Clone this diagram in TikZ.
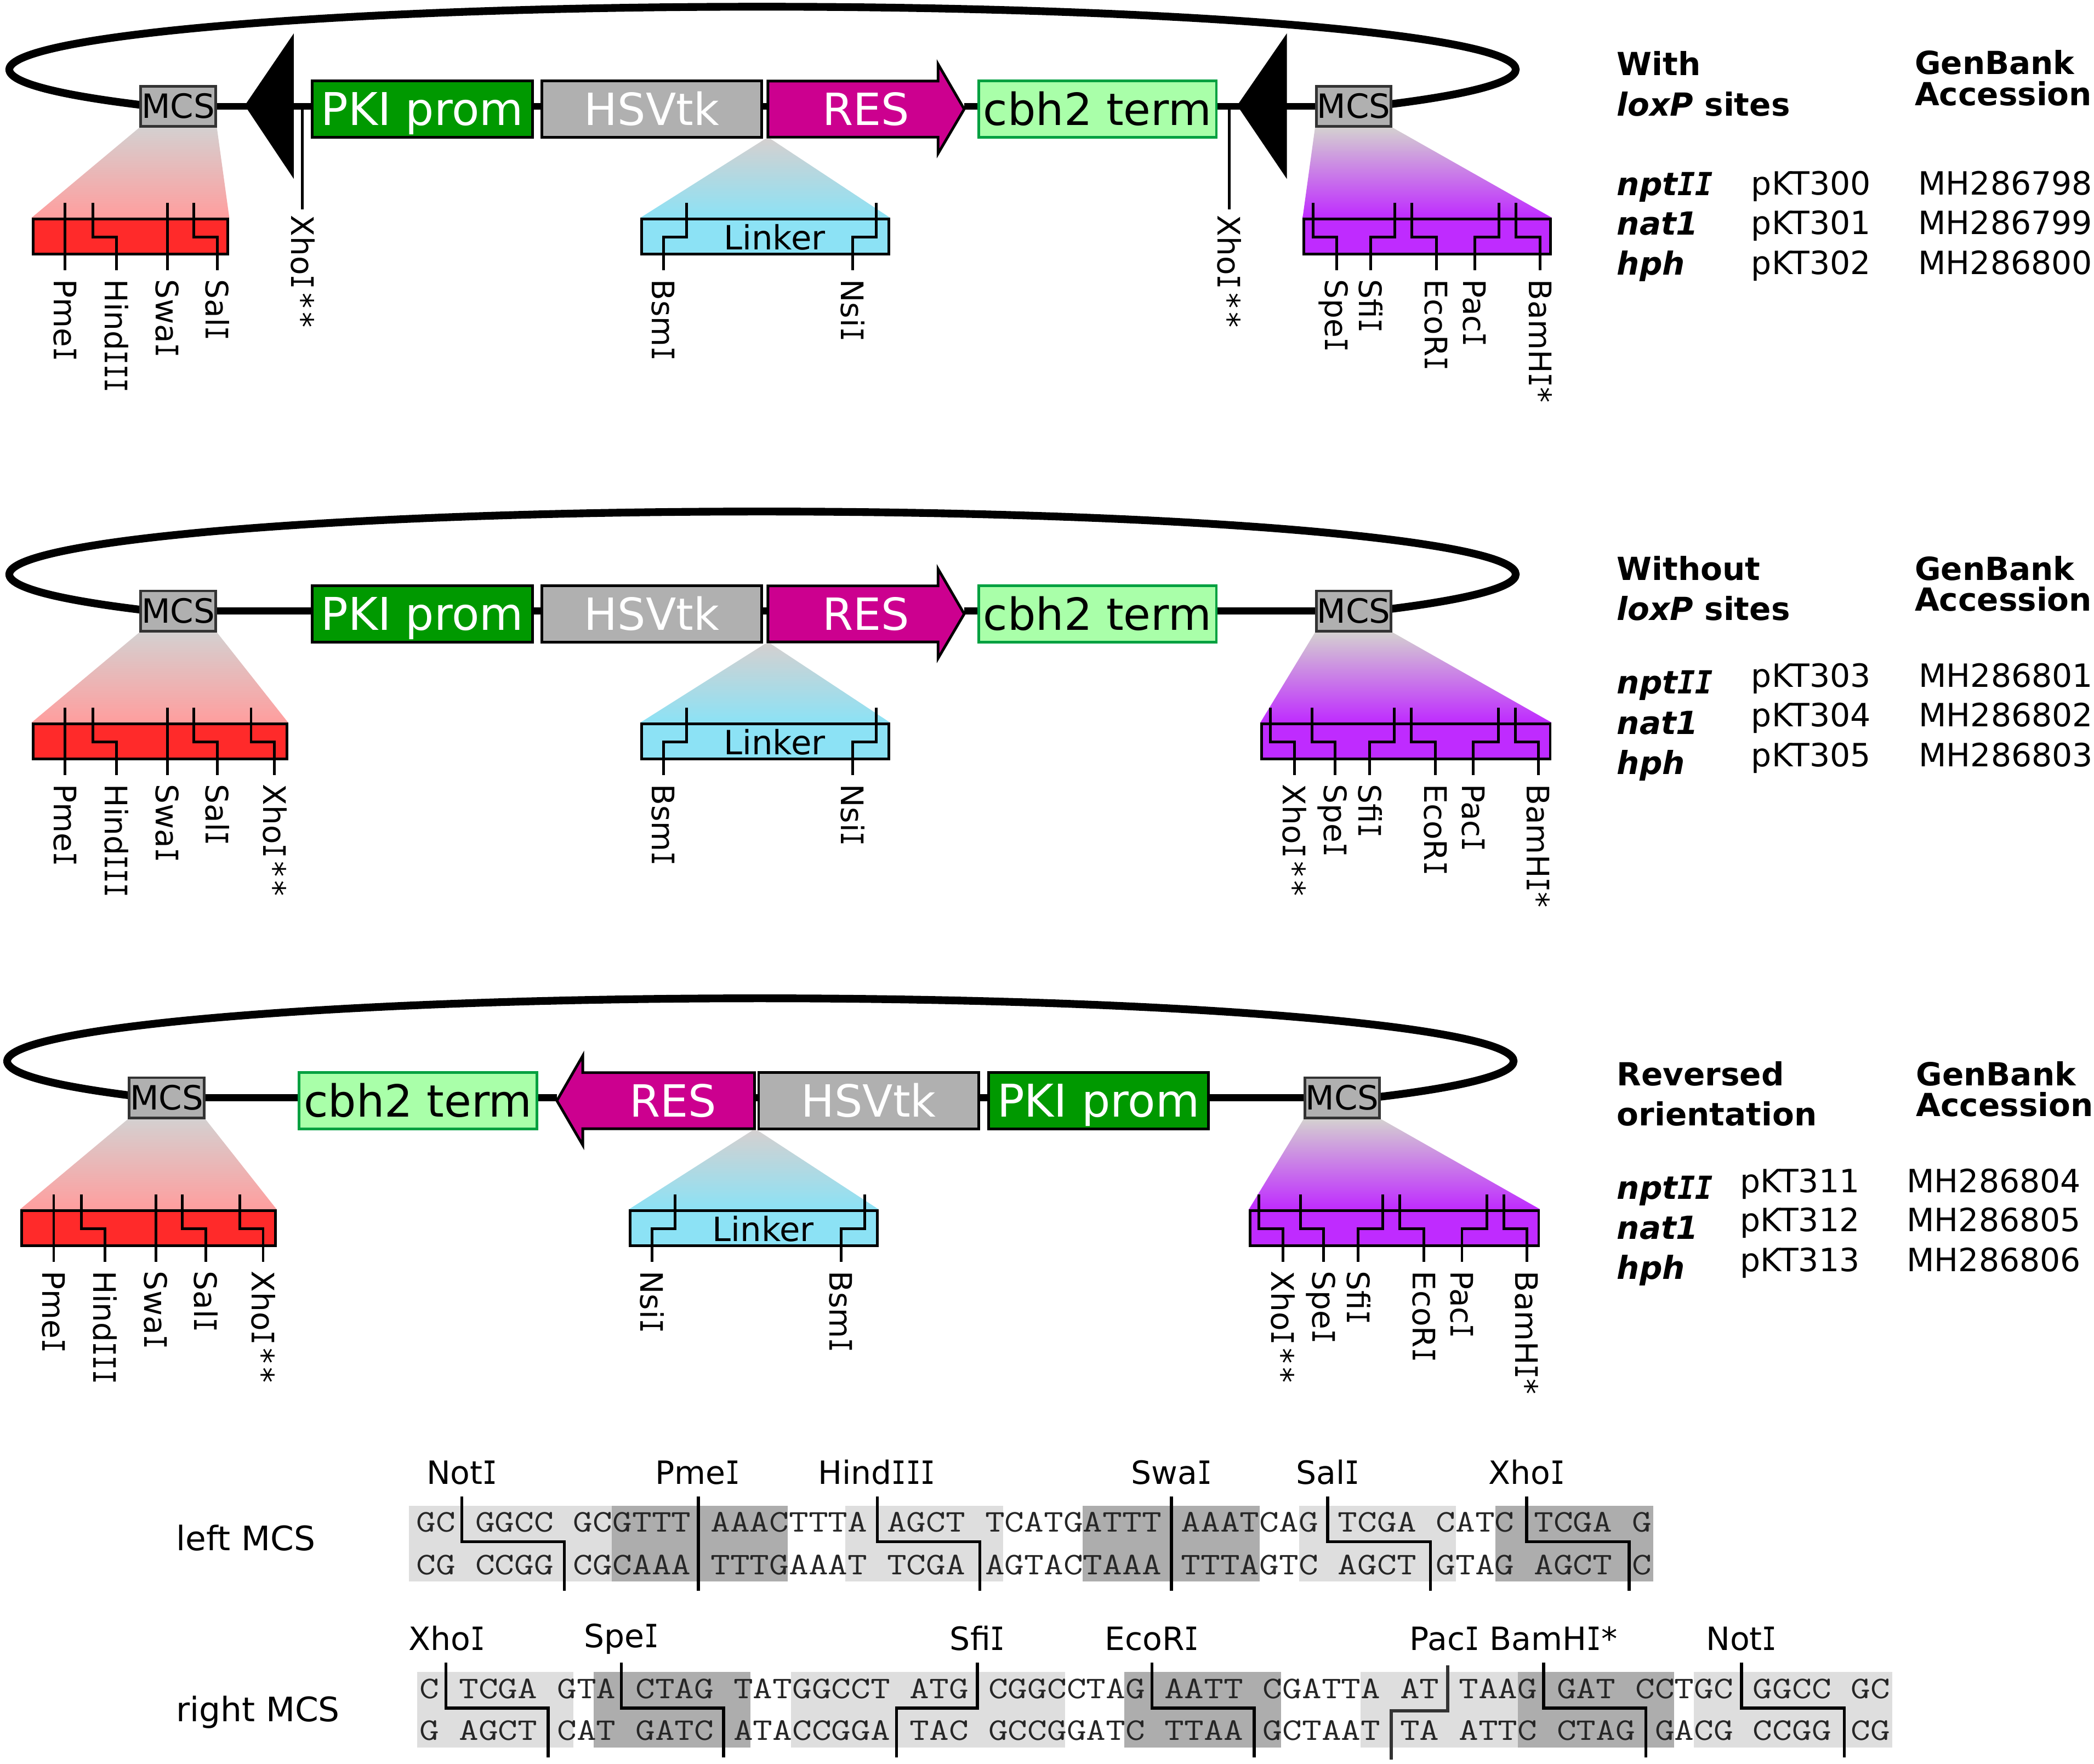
\documentclass[tikz,border=0pt]{standalone}
\usepackage{fontspec}
\setmainfont{DejaVu Sans}
\newfontfamily\dvmono[FakeStretch=0.75]{DejaVu Sans Mono}
\newfontfamily\dvbold[FakeStretch=0.92]{DejaVu Sans Mono}
\newfontfamily\seqfont[FakeStretch=1.208]{Latin Modern Mono}
\usetikzlibrary{backgrounds}

\definecolor{pkigreen}{RGB}{0,153,0}
\definecolor{cbhgreen}{RGB}{169,255,169}
\definecolor{cbhedge}{RGB}{0,160,64}
\definecolor{hsvgray}{RGB}{176,176,176}
\definecolor{resmag}{RGB}{204,0,143}
\definecolor{redsite}{RGB}{255,42,42}
\definecolor{redfade}{RGB}{255,158,158}
\definecolor{linkblue}{RGB}{140,226,245}
\definecolor{purpsite}{RGB}{191,43,255}
\definecolor{funneltop}{RGB}{212,208,208}

\newcommand{\seqtype}{\fontsize{11.8}{14}\seqfont\spaceskip 7.335pt\relax}

\tikzset{
  loopline/.style={line width=2.9pt},
  backbone/.style={line width=2.5pt},
  genebox/.style={draw=black,line width=1pt,inner sep=0pt,minimum height=21pt,
    text height=12.1pt,text depth=0pt,font=\fontsize{16.6}{18}\selectfont},
  mcsbox/.style={draw=black!80,line width=1pt,fill=hsvgray,inner sep=0pt,minimum width=28pt,
    minimum height=15pt,text height=9.1pt,text depth=0pt,font=\fontsize{12.5}{14}\selectfont},
  sitebox/.style={draw=black,line width=1pt,inner sep=0pt,minimum height=13.1pt},
  cutline/.style={line width=1pt,shorten >=3.15pt},
  sitelabel/.style={rotate=-90,anchor=west,inner sep=0pt,text height=8.5pt,text depth=0pt,
    font=\fontsize{11.6}{14}\selectfont},
  linklabel/.style={inner sep=0pt,text height=9.1pt,text depth=0pt,font=\fontsize{12.5}{14}\selectfont},
  infotext/.style={anchor=base west,inner sep=0pt,font=\fontsize{12}{14}\selectfont},
  infohead/.style={anchor=base west,inner sep=0pt,font=\fontsize{11.9}{14}\selectfont\bfseries},
  infogene/.style={anchor=base west,inner sep=0pt,font=\fontsize{11.9}{14}\selectfont\bfseries\itshape},
  seqrow/.style={anchor=west,inner sep=0pt,text height=7.2pt,text depth=0pt,text=black!85,font=\seqtype},
  seqlabel/.style={inner sep=0pt,text height=8.9pt,text depth=0pt,font=\fontsize{12}{14}\selectfont},
  seqname/.style={anchor=west,inner sep=0pt,text height=8.9pt,text depth=0pt,font=\fontsize{12.6}{14}\selectfont},
  seqcut/.style={line width=1.1pt},
  lightband/.style={fill=black!13},
  darkband/.style={fill=black!32},
}

% serifed capital I of the site names
\newcommand{\sI}{{\dvmono I}}
\newcommand{\bI}{{\dvbold I}}
% name, top x, bottom x, label
\newcommand{\cutsite}[4]{
  \node[sitelabel] (#1) at (#3,208.8) {#4};
  \draw[cutline] (#2,151.8) -- (#2,177.4) -- (#3,177.4) -- (#1.west);
}
% top x, bottom x
\newcommand{\seqstep}[2]{
  \draw[seqcut] (#1,1120.5) -- (#1,1154.4) -- (#2,1154.4) -- (#2,1191.2);
}
\newcommand{\xhostars}{Xho\sI\kern.12em*\kern.12em*}

\begin{document}
\begin{tikzpicture}[x=0.5pt,y=0.5pt,yscale=-1,xscale=1]
\useasboundingbox (0,0) rectangle (1568,1320.5);

%Panel with loxP sites
\begin{scope}[name prefix=a-]
\draw[loopline] (109,79) arc[start angle=145,end angle=395,x radius=564,y radius=47];
% Gene Nodes
\node[mcsbox] (mcsl) at (133.4,79.5) {MCS};
\node[mcsbox] (mcsr) at (1013.7,79.5) {MCS};
\node[genebox,fill=pkigreen,text=white,minimum width=82.4pt,font=\fontsize{16.9}{18}\selectfont] (pki) at (316.2,81.7) {PKI prom};
\node[genebox,fill=hsvgray,text=white,minimum width=82.4pt] (hsv) at (488,81.7) {HSVtk};
\node[genebox,draw=cbhedge,fill=cbhgreen,minimum width=89pt] (cbh) at (821.8,81.7) {cbh2 term};
\coordinate (restail) at (575,79.5);
\coordinate (restip) at (722,79.5);
\draw[line width=1pt,fill=resmag] (575,60.7) -- (702.4,60.7) -- (702.4,48) -- (722,81.7) -- (702.4,115) -- (702.4,102.7) -- (575,102.7) -- cycle;
\node[genebox,draw=none,text=white] (res) at (648.5,81.7) {RES};
%Backbone
\draw[backbone] (mcsl.east) -- (mcsl.east -| pki.west);
\draw[backbone] (mcsl.east -| pki.east) -- (mcsl.east -| hsv.west);
\draw[backbone] (mcsl.east -| hsv.east) -- (restail);
\draw[backbone] (restip) -- (mcsl.east -| cbh.west);
\draw[backbone] (mcsl.east -| cbh.east) -- (mcsr.west);
%loxP triangles
\fill (183.3,79) -- (220,25) -- (220,134) -- cycle;
\fill (926.4,79) -- (963.6,25) -- (963.6,134) -- cycle;
\node[sitelabel] (xhol) at (226.5,160.8) {\xhostars};
\node[sitelabel] (xhor) at (920.4,160.8) {\xhostars};
\draw[cutline,shorten >=2.1pt] (226.5,80) -- (xhol.west);
\draw[cutline,shorten >=2.1pt] (920.4,80) -- (xhor.west);
% Site Boxes
\node[sitebox,fill=redsite,minimum width=73pt] (redbox) at (97.7,177.1) {};
\node[sitebox,fill=linkblue,minimum width=92.4pt] (linkbox) at (573,177.1) {};
\node[sitebox,fill=purpsite,minimum width=92.3pt] (purpbox) at (1068.7,177.1) {};
\node[linklabel] (linker) at (580,178) {Linker};
\begin{scope}[on background layer]
\shade[top color=funneltop,bottom color=redfade] (mcsl.south west) -- (mcsl.south east) -- (redbox.north east) -- (redbox.north west) -- cycle;
\shade[top color=funneltop,bottom color=linkblue] (573,104) -- (577,104) -- (linkbox.north east) -- (linkbox.north west) -- cycle;
\shade[top color=funneltop,bottom color=purpsite] (mcsr.south west) -- (mcsr.south east) -- (purpbox.north east) -- (purpbox.north west) -- cycle;
\end{scope}
%Cut sites
\cutsite{pme}{48.8}{48.8}{Pme\sI}
\cutsite{hind}{69.6}{87.2}{Hind\sI\sI\sI}
\cutsite{swa}{125.4}{125.4}{Swa\sI}
\cutsite{sal}{145.2}{162.8}{Sal\sI}
\cutsite{bsm}{514}{496.7}{Bsm\sI}
\cutsite{nsi}{656}{638.3}{Nsi\sI}
\cutsite{spe}{983.2}{1000.9}{Spe\sI}
\cutsite{sfi}{1044.5}{1026.4}{Sfi\sI}
\cutsite{eco}{1057.1}{1075.5}{EcoR\sI}
\cutsite{pac}{1122.3}{1104.2}{Pac\sI}
\cutsite{bam}{1135.2}{1153.3}{BamH\sI*}
\end{scope}

% Text Nodes
\node[infohead] (witha) at (1210.4,56.5) {With};
\node[infohead] (loxa) at (1210.4,87) {{\itshape loxP} sites};
\node[infohead] (gena) at (1433.4,55.5) {GenBank};
\node[infohead] (acca) at (1433.4,79) {Accession};
\node[infogene] (npta) at (1210.4,146.5) {npt\bI\bI};
\node[infogene] (nata) at (1210.4,176) {nat1};
\node[infogene] (hpha) at (1210.4,206) {hph};
\node[infotext] (ka) at (1311,146) {pKT300};
\node[infotext] (kb) at (1311,175.5) {pKT301};
\node[infotext] (kc) at (1311,205.5) {pKT302};
\node[infotext] (ma) at (1436,146) {MH286798};
\node[infotext] (mb) at (1436,175.5) {MH286799};
\node[infotext] (mc) at (1436,205.5) {MH286800};

%Panel without loxP sites
\begin{scope}[shift={(0,378)},name prefix=b-]
\draw[loopline] (109,79) arc[start angle=145,end angle=395,x radius=564,y radius=47];
% Gene Nodes
\node[mcsbox] (mcsl) at (133.4,79.5) {MCS};
\node[mcsbox] (mcsr) at (1013.7,79.5) {MCS};
\node[genebox,fill=pkigreen,text=white,minimum width=82.4pt,font=\fontsize{16.9}{18}\selectfont] (pki) at (316.2,81.7) {PKI prom};
\node[genebox,fill=hsvgray,text=white,minimum width=82.4pt] (hsv) at (488,81.7) {HSVtk};
\node[genebox,draw=cbhedge,fill=cbhgreen,minimum width=89pt] (cbh) at (821.8,81.7) {cbh2 term};
\coordinate (restail) at (575,79.5);
\coordinate (restip) at (722,79.5);
\draw[line width=1pt,fill=resmag] (575,60.7) -- (702.4,60.7) -- (702.4,48) -- (722,81.7) -- (702.4,115) -- (702.4,102.7) -- (575,102.7) -- cycle;
\node[genebox,draw=none,text=white] (res) at (648.5,81.7) {RES};
%Backbone
\draw[backbone] (mcsl.east) -- (mcsl.east -| pki.west);
\draw[backbone] (mcsl.east -| pki.east) -- (mcsl.east -| hsv.west);
\draw[backbone] (mcsl.east -| hsv.east) -- (restail);
\draw[backbone] (restip) -- (mcsl.east -| cbh.west);
\draw[backbone] (mcsl.east -| cbh.east) -- (mcsr.west);
% Site Boxes
\node[sitebox,fill=redsite,minimum width=95pt] (redbox) at (119.7,177.1) {};
\node[sitebox,fill=linkblue,minimum width=92.4pt] (linkbox) at (573,177.1) {};
\node[sitebox,fill=purpsite,minimum width=108pt] (purpbox) at (1052.8,177.1) {};
\node[linklabel] (linker) at (580,178) {Linker};
\begin{scope}[on background layer]
\shade[top color=funneltop,bottom color=redfade] (mcsl.south west) -- (mcsl.south east) -- (redbox.north east) -- (redbox.north west) -- cycle;
\shade[top color=funneltop,bottom color=linkblue] (573,104) -- (577,104) -- (linkbox.north east) -- (linkbox.north west) -- cycle;
\shade[top color=funneltop,bottom color=purpsite] (mcsr.south west) -- (mcsr.south east) -- (purpbox.north east) -- (purpbox.north west) -- cycle;
\end{scope}
%Cut sites
\cutsite{pme}{48.8}{48.8}{Pme\sI}
\cutsite{hind}{69.6}{87.2}{Hind\sI\sI\sI}
\cutsite{swa}{125.4}{125.4}{Swa\sI}
\cutsite{sal}{145.2}{162.8}{Sal\sI}
\cutsite{xho}{188}{205.6}{\xhostars}
\cutsite{bsm}{514}{496.7}{Bsm\sI}
\cutsite{nsi}{656}{638.3}{Nsi\sI}
\cutsite{xhor}{951.4}{969.3}{\xhostars}
\cutsite{spe}{982.4}{999.8}{Spe\sI}
\cutsite{sfi}{1043.9}{1025.7}{Sfi\sI}
\cutsite{eco}{1056.6}{1074.9}{EcoR\sI}
\cutsite{pac}{1121.9}{1103.3}{Pac\sI}
\cutsite{bam}{1134.7}{1152}{BamH\sI*}
\end{scope}

% Text Nodes
\node[infohead] (withb) at (1210.4,434.4) {Without};
\node[infohead] (loxb) at (1210.4,464.6) {{\itshape loxP} sites};
\node[infohead] (genb) at (1433.4,434.4) {GenBank};
\node[infohead] (accb) at (1433.4,457.3) {Accession};
\node[infogene] (nptb) at (1210.4,519.5) {npt\bI\bI};
\node[infogene] (natb) at (1210.4,550) {nat1};
\node[infogene] (hphb) at (1210.4,579.7) {hph};
\node[infotext] (kd) at (1311,514.6) {pKT303};
\node[infotext] (ke) at (1311,544) {pKT304};
\node[infotext] (kf) at (1311,574) {pKT305};
\node[infotext] (md) at (1436.4,514.6) {MH286801};
\node[infotext] (me) at (1436.4,544) {MH286802};
\node[infotext] (mf) at (1436.4,574) {MH286803};

%Panel with reversed orientation
\begin{scope}[shift={(-8.6,742.5)},name prefix=c-]
\draw[loopline] (116,79) arc[start angle=145,end angle=395,x radius=564,y radius=47];
% Gene Nodes
\node[mcsbox] (mcsl) at (133.4,79.5) {MCS};
\node[mcsbox] (mcsr) at (1013.7,79.5) {MCS};
\node[genebox,fill=pkigreen,text=white,minimum width=82.4pt,font=\fontsize{16.9}{18}\selectfont] (pki) at (831.1,81.7) {PKI prom};
\node[genebox,fill=hsvgray,text=white,minimum width=82.4pt] (hsv) at (659.1,81.7) {HSVtk};
\node[genebox,draw=cbhedge,fill=cbhgreen,minimum width=89pt] (cbh) at (321.6,81.7) {cbh2 term};
\coordinate (restail) at (573.6,79.5);
\coordinate (restip) at (425.6,79.5);
\draw[line width=1pt,fill=resmag] (573.6,60.7) -- (445,60.7) -- (445,48) -- (425.6,81.7) -- (445,115) -- (445,102.7) -- (573.6,102.7) -- cycle;
\node[genebox,draw=none,text=white] (res) at (512.6,81.7) {RES};
%Backbone
\draw[backbone] (mcsl.east) -- (mcsl.east -| cbh.west);
\draw[backbone] (mcsl.east -| cbh.east) -- (restip);
\draw[backbone] (restail) -- (mcsl.east -| hsv.west);
\draw[backbone] (mcsl.east -| hsv.east) -- (mcsl.east -| pki.west);
\draw[backbone] (mcsl.east -| pki.east) -- (mcsr.west);
% Site Boxes
\node[sitebox,fill=redsite,minimum width=95pt] (redbox) at (119.7,177.1) {};
\node[sitebox,fill=linkblue,minimum width=92.4pt] (linkbox) at (573,177.1) {};
\node[sitebox,fill=purpsite,minimum width=108pt] (purpbox) at (1052.8,177.1) {};
\node[linklabel] (linker) at (580,178) {Linker};
\begin{scope}[on background layer]
\shade[top color=funneltop,bottom color=redfade] (mcsl.south west) -- (mcsl.south east) -- (redbox.north east) -- (redbox.north west) -- cycle;
\shade[top color=funneltop,bottom color=linkblue] (572,104) -- (576,104) -- (linkbox.north east) -- (linkbox.north west) -- cycle;
\shade[top color=funneltop,bottom color=purpsite] (mcsr.south west) -- (mcsr.south east) -- (purpbox.north east) -- (purpbox.north west) -- cycle;
\end{scope}
%Cut sites
\cutsite{pme}{48.8}{48.8}{Pme\sI}
\cutsite{hind}{69.6}{87.2}{Hind\sI\sI\sI}
\cutsite{swa}{125.4}{125.4}{Swa\sI}
\cutsite{sal}{145.2}{162.8}{Sal\sI}
\cutsite{xho}{188}{205.6}{\xhostars}
\cutsite{nsi}{514}{496.7}{Nsi\sI}
\cutsite{bsm}{656}{638.3}{Bsm\sI}
\cutsite{xhor}{951.4}{969.3}{\xhostars}
\cutsite{spe}{982.4}{999.8}{Spe\sI}
\cutsite{sfi}{1043.9}{1025.7}{Sfi\sI}
\cutsite{eco}{1056.6}{1074.9}{EcoR\sI}
\cutsite{pac}{1121.9}{1103.3}{Pac\sI}
\cutsite{bam}{1134.7}{1152}{BamH\sI*}
\end{scope}

% Text Nodes
\node[infohead] (withc) at (1210.4,813) {Reversed};
\node[infohead] (loxc) at (1210.4,843) {orientation};
\node[infohead] (genc) at (1434.4,813) {GenBank};
\node[infohead] (accc) at (1434.4,836) {Accession};
\node[infogene] (nptc) at (1210.4,898) {npt\bI\bI};
\node[infogene] (natc) at (1210.4,928) {nat1};
\node[infogene] (hphc) at (1210.4,958) {hph};
\node[infotext] (kg) at (1302.5,893) {pKT311};
\node[infotext] (kh) at (1302.5,922) {pKT312};
\node[infotext] (ki) at (1302.5,952) {pKT313};
\node[infotext] (mg) at (1427.4,893) {MH286804};
\node[infotext] (mh) at (1427.4,922) {MH286805};
\node[infotext] (mi) at (1427.4,952) {MH286806};

%Left MCS sequence
\fill[lightband] (306.2,1127.5) rectangle (458,1184.3);
\fill[darkband] (458,1127.5) rectangle (589.9,1184.3);
\fill[lightband] (632.9,1127.5) rectangle (751,1184.3);
\fill[darkband] (810.6,1127.5) rectangle (943.4,1184.3);
\fill[lightband] (972.7,1127.5) rectangle (1090,1184.3);
\fill[darkband] (1119.7,1127.5) rectangle (1237.9,1184.3);
\node[seqrow] (lefttop) at (311.5,1140) {GC GGCC GCGTTT AAACTTTA AGCT TCATGATTT AAATCAG TCGA CATC TCGA G};
\node[seqrow] (leftbot) at (311.5,1171.7) {CG CCGG CGCAAA TTTGAAAT TCGA AGTACTAAA TTTAGTC AGCT GTAG AGCT C};
\seqstep{345.8}{422.5}
\seqstep{523}{523}
\seqstep{657}{733.8}
\seqstep{877.2}{877.2}
\seqstep{994.1}{1071.1}
\seqstep{1143.2}{1219.9}
\node[seqlabel] (notl) at (345.8,1102.5) {Not\sI};
\node[seqlabel] (pmel) at (522.3,1102.5) {Pme\sI};
\node[seqlabel] (hindl) at (656.5,1102.5) {Hind\sI\sI\sI};
\node[seqlabel] (swal) at (877.2,1102.5) {Swa\sI};
\node[seqlabel] (sall) at (994.1,1102.5) {Sal\sI};
\node[seqlabel] (xhol) at (1143.2,1102.5) {Xho\sI};
\node[seqname] (leftmcs) at (131.5,1152) {left MCS};

%Right MCS sequence
\fill[lightband] (312.5,1252) rectangle (429.4,1308.7);
\fill[darkband] (444.4,1252) rectangle (561.9,1308.7);
\fill[lightband] (592.1,1252) rectangle (797.6,1308.7);
\fill[darkband] (842,1252) rectangle (959.3,1308.7);
\fill[lightband] (1018.8,1252) rectangle (1136.5,1308.7);
\fill[darkband] (1136.5,1252) rectangle (1253.4,1308.7);
\fill[lightband] (1268.4,1252) rectangle (1417.1,1308.7);
\node[seqrow] (righttop) at (314,1264.6) {C TCGA GTA CTAG TATGGCCT ATG CGGCCTAG AATT CGATTA AT TAAG GAT CCTGC GGCC GC};
\node[seqrow] (rightbot) at (314,1295.9) {G AGCT CAT GATC ATACCGGA TAC GCCGGATC TTAA GCTAAT TA ATTC CTAG GACG CCGG CG};
\begin{scope}[shift={(0,124.6)}]
\seqstep{333.9}{410.5}
\seqstep{465.2}{541.8}
\seqstep{731.9}{671.2}
\seqstep{862.5}{939.2}
\seqstep{1155.8}{1232.4}
\seqstep{1304}{1381}
\end{scope}
\draw[seqcut,draw=black!80] (1084.1,1247) -- (1084.1,1281) -- (1041.8,1281) -- (1041.8,1317.8);
\node[seqlabel] (xhor) at (334.5,1227) {Xho\sI};
\node[seqlabel] (sper) at (465.2,1224.6) {Spe\sI};
\node[seqlabel] (sfir) at (731.9,1227) {Sfi\sI};
\node[seqlabel] (ecor) at (862.5,1227) {EcoR\sI};
\node[seqlabel] (pacr) at (1081.6,1227) {Pac\sI};
\node[seqlabel] (bamr) at (1163.3,1227) {BamH\sI*};
\node[seqlabel] (notr) at (1304,1227) {Not\sI};
\node[seqname] (rightmcs) at (131.5,1280) {right MCS};

\end{tikzpicture}
\end{document}
